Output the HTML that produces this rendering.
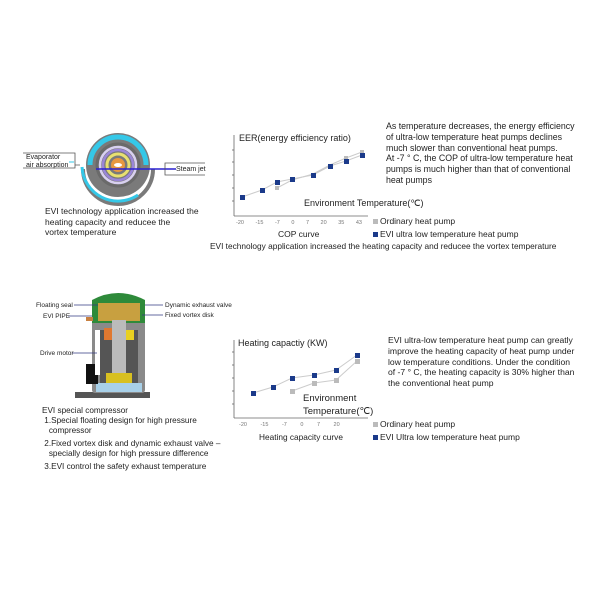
<!DOCTYPE html>
<html><head><meta charset="utf-8"><style>
body{margin:0;background:#fff;}
#c{position:relative;width:600px;height:600px;overflow:hidden;font-family:"Liberation Sans",Arial,sans-serif;color:#222;}
.t{position:absolute;white-space:nowrap;font-size:8px;line-height:10px;}
.p{position:absolute;font-size:8.2px;line-height:10.6px;}
</style></head><body><div id="c">
<svg width="600" height="600" style="position:absolute;left:0;top:0">
<!-- vortex -->
<g transform="translate(118,165)">
<circle r="32" fill="#7a7a7a"/>
<path d="M-35,4 A35,35 0 0 0 35,4" fill="none" stroke="#7a7a7a" stroke-width="4"/>
<path d="M-28,0 A28,28 0 1 1 28,0" fill="none" stroke="#35c8e8" stroke-width="5"/>
<path d="M-36,2 A36,36 0 0 0 20,30" fill="none" stroke="#35c8e8" stroke-width="3"/>
<circle r="21" fill="none" stroke="#6a6a6a" stroke-width="3"/>
<circle r="18" fill="none" stroke="#d8d0f0" stroke-width="2.5"/>
<circle r="15" fill="none" stroke="#9a86d8" stroke-width="2.5"/>
<circle r="11" fill="none" stroke="#e8e070" stroke-width="3"/>
<circle r="7" fill="#e89840"/>
<ellipse rx="4" ry="2" fill="#fff"/>
<line x1="-22" y1="4" x2="58" y2="4" stroke="#2a20d0" stroke-width="1.5"/>
</g>
<path d="M23,153 H75 V165 H80 M23,168 H75 V165" fill="none" stroke="#555" stroke-width="0.8"/>
<path d="M205,163 H165 V175 H205" fill="none" stroke="#555" stroke-width="0.8"/>
<line x1="170" y1="169" x2="175" y2="169" stroke="#2a20d0"/>
<line x1="69" y1="162" x2="74" y2="162" stroke="#35c8e8"/>
<!-- top chart -->
<g stroke="#666" stroke-width="0.8" fill="none">
<line x1="234" y1="135" x2="234" y2="216"/><line x1="234" y1="216" x2="368" y2="216"/>
<line x1="232" y1="150" x2="234" y2="150"/><line x1="232" y1="162" x2="234" y2="162"/><line x1="232" y1="175" x2="234" y2="175"/><line x1="232" y1="188" x2="234" y2="188"/><line x1="232" y1="201" x2="234" y2="201"/>
</g>
<polyline points="277,188 292,180 313,174 330,165 346,158 362,152" fill="none" stroke="#ccc" stroke-width="1"/>
<polyline points="242,197 262,190 277,182 292,179 313,175 330,166 346,161 362,155" fill="none" stroke="#ccc" stroke-width="1"/>
<g fill="#bbb"><rect x="275" y="186" width="4" height="4"/><rect x="344" y="156" width="4" height="4"/><rect x="360" y="150" width="4" height="4"/></g>
<g fill="#1b3a8a"><rect x="240" y="195" width="5" height="5"/><rect x="260" y="188" width="5" height="5"/><rect x="275" y="180" width="5" height="5"/><rect x="290" y="177" width="5" height="5"/><rect x="311" y="173" width="5" height="5"/><rect x="328" y="164" width="5" height="5"/><rect x="344" y="159" width="5" height="5"/><rect x="360" y="153" width="5" height="5"/></g>
<rect x="373" y="219" width="5" height="5" fill="#bbb"/><rect x="373" y="232" width="5" height="5" fill="#1b3a8a"/>
<!-- compressor -->
<rect x="75" y="392" width="75" height="6" fill="#555"/>
<rect x="92" y="300" width="53" height="93" rx="3" fill="#8a8a8a"/>
<path d="M92,323 V300 Q118,286 145,300 V323 Z" fill="#2e8a3a"/>
<rect x="98" y="303" width="42" height="18" fill="#c8a040"/>
<rect x="100" y="330" width="38" height="55" fill="#555"/>
<rect x="104" y="328" width="12" height="12" fill="#e07830"/><rect x="126" y="330" width="8" height="10" fill="#e8d020"/>
<rect x="112" y="320" width="14" height="68" fill="#bbb"/>
<rect x="106" y="373" width="26" height="10" fill="#d8c020"/>
<rect x="96" y="383" width="46" height="9" fill="#a8d0e8"/>
<rect x="86" y="364" width="12" height="20" fill="#111"/>
<rect x="95" y="330" width="5" height="45" fill="#fff"/>
<rect x="86" y="317" width="7" height="4" fill="#c88040"/>
<g stroke="#333a80" stroke-width="0.8">
<line x1="74" y1="305" x2="98" y2="305"/><line x1="68" y1="316" x2="92" y2="316"/><line x1="72" y1="353" x2="97" y2="353"/>
<line x1="145" y1="305" x2="163" y2="305"/><line x1="142" y1="315" x2="163" y2="315"/>
</g>
<!-- bottom chart -->
<g stroke="#666" stroke-width="0.8" fill="none">
<line x1="234" y1="340" x2="234" y2="418"/><line x1="234" y1="418" x2="368" y2="418"/>
<line x1="232" y1="352" x2="234" y2="352"/><line x1="232" y1="365" x2="234" y2="365"/><line x1="232" y1="378" x2="234" y2="378"/><line x1="232" y1="391" x2="234" y2="391"/><line x1="232" y1="404" x2="234" y2="404"/>
</g>
<polyline points="292,391 314,383 336,380 357,361" fill="none" stroke="#ccc"/>
<polyline points="253,393 273,387 292,378 314,375 336,370 357,355" fill="none" stroke="#ccc"/>
<g fill="#bbb"><rect x="290" y="389" width="5" height="5"/><rect x="312" y="381" width="5" height="5"/><rect x="334" y="378" width="5" height="5"/><rect x="355" y="359" width="5" height="5"/></g>
<g fill="#1b3a8a"><rect x="251" y="391" width="5" height="5"/><rect x="271" y="385" width="5" height="5"/><rect x="290" y="376" width="5" height="5"/><rect x="312" y="373" width="5" height="5"/><rect x="334" y="368" width="5" height="5"/><rect x="355" y="353" width="5" height="5"/></g>
<rect x="373" y="422" width="5" height="5" fill="#bbb"/><rect x="373" y="435" width="5" height="5" fill="#1b3a8a"/>
</svg>
<div class="t" style="left:26px;top:154px;font-size:7px;line-height:8px">Evaporator<br>air absorption</div>
<div class="t" style="left:176px;top:165px;font-size:7px">Steam jet</div>
<div class="p" style="left:45px;top:206px;font-size:8.5px">EVI technology application increased the<br>heating capacity and reducee the<br>vortex temperature</div>
<div class="t" style="left:239px;top:133px;font-size:9px">EER(energy efficiency ratio)</div>
<div class="t" style="left:304px;top:198px;font-size:9px">Environment Temperature(℃)</div>
<div class="t" style="left:236px;top:218px;font-size:5.5px;color:#777;word-spacing:10px">-20 -15 -7 0 7 20 35 43</div>
<div class="t" style="left:380px;top:216px;font-size:8.5px">Ordinary heat pump</div>
<div class="t" style="left:380px;top:229px;font-size:8.5px">EVI ultra low temperature heat pump</div>
<div class="t" style="left:278px;top:229px;font-size:8.5px">COP curve</div>
<div class="t" style="left:210px;top:241px;font-size:8.3px">EVI technology application increased the heating capacity and reducee the vortex temperature</div>
<div class="p" style="left:386px;top:121px;font-size:8.8px;line-height:10.8px">As temperature decreases, the energy efficiency<br>of ultra-low temperature heat pumps declines<br>much slower than conventional heat pumps.<br>At -7 ° C, the COP of ultra-low temperature heat<br>pumps is much higher than that of conventional<br>heat pumps</div>
<div class="t" style="left:36px;top:301px;font-size:6.5px">Floating seal</div>
<div class="t" style="left:43px;top:312px;font-size:6.5px">EVI PIPE</div>
<div class="t" style="left:40px;top:349px;font-size:6.5px">Drive motor</div>
<div class="t" style="left:165px;top:301px;font-size:6.5px">Dynamic exhaust valve</div>
<div class="t" style="left:165px;top:311px;font-size:6.5px">Fixed vortex disk</div>
<div class="p" style="left:42px;top:406px;font-size:8.2px;line-height:10px">EVI special compressor<br>&nbsp;1.Special floating design for high pressure<br>&nbsp;&nbsp;&nbsp;compressor<br><span style="display:block;height:3px"></span>&nbsp;2.Fixed vortex disk and dynamic exhaust valve –<br>&nbsp;&nbsp;&nbsp;specially design for high pressure difference<br><span style="display:block;height:3px"></span>&nbsp;3.EVI control the safety exhaust temperature</div>
<div class="t" style="left:238px;top:338px;font-size:9px">Heating capactiy (KW)</div>
<div class="t" style="left:303px;top:392px;font-size:9.5px;line-height:13px">Environment<br>Temperature(℃)</div>
<div class="t" style="left:239px;top:420px;font-size:5.5px;color:#777;word-spacing:12px">-20 -15 -7 0 7 20</div>
<div class="t" style="left:380px;top:419px;font-size:8.5px">Ordinary heat pump</div>
<div class="t" style="left:380px;top:432px;font-size:8.5px">EVI Ultra low temperature heat pump</div>
<div class="t" style="left:259px;top:432px;font-size:8.3px">Heating capacity curve</div>
<div class="p" style="left:388px;top:335px;font-size:8.6px;line-height:10.8px">EVI ultra-low temperature heat pump can greatly<br>improve the heating capacity of heat pump under<br>low temperature conditions. Under the condition<br>of -7 ° C, the heating capacity is 30% higher than<br>the conventional heat pump</div>
</div></body></html>
